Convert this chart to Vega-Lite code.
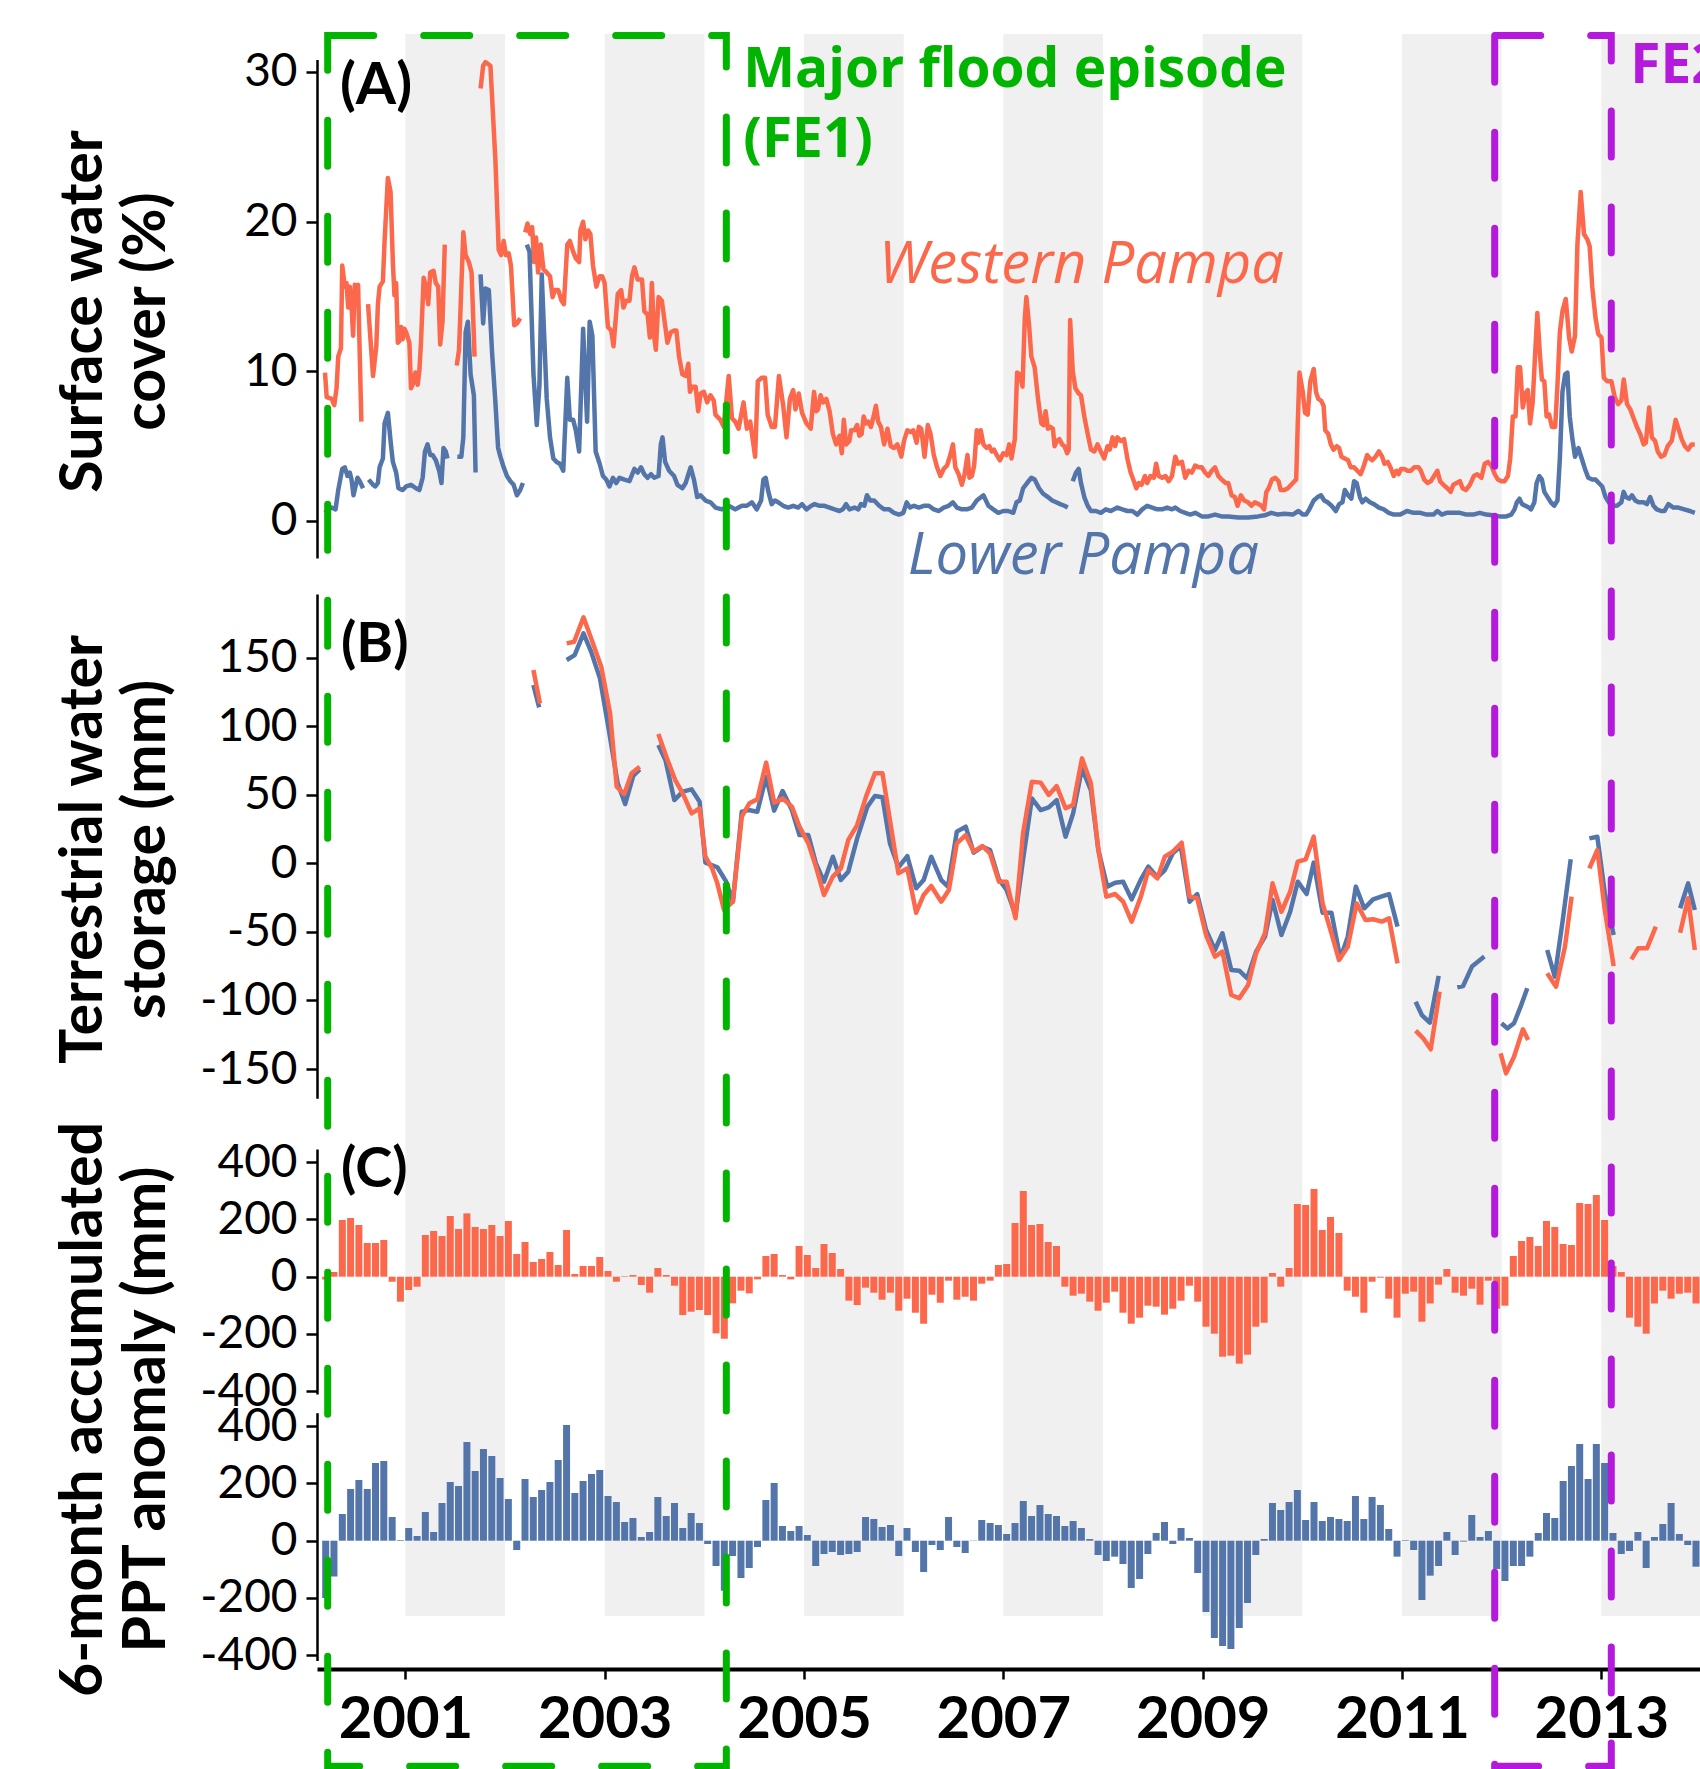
{
"$schema": "https://vega.github.io/schema/vega-lite/v6.json",
"width": 1383,
"height": 1669,
"autosize": {"type": "none"},
"padding": {"left": 317, "top": 0, "right": 0, "bottom": 100},
"background": "white",
"config": {"view": {"stroke": null}, "axis": {"grid": false}},
"datasets": {
"bands": [{"t":2001,"t2":2002},{"t":2003,"t2":2004},{"t":2005,"t2":2006},{"t":2007,"t2":2008},{"t":2009,"t2":2010},{"t":2011,"t2":2012},{"t":2013,"t2":2014}],
"west": [
{"t":2000.193,"v":9.91},{"t":2000.21,"v":8.27},{"t":2000.26,"v":8.15},{"t":2000.286,"v":7.73},{"t":2000.309,"v":8.86},{"t":2000.326,"v":10.97},{"t":2000.353,"v":11.55},{"t":2000.366,"v":17.06},{"t":2000.392,"v":15.65},{"t":2000.409,"v":15.89},{"t":2000.426,"v":14.25},{"t":2000.442,"v":15.65},{"t":2000.459,"v":14.36},{"t":2000.475,"v":12.37},{"t":2000.492,"v":15.77},{"t":2000.509,"v":15.65},{"t":2000.525,"v":15.77},{"t":2000.558,"v":6.63},{"t":2000.59,"v":null},
{"t":2000.625,"v":14.48},{"t":2000.675,"v":9.68},{"t":2000.708,"v":11.67},{"t":2000.724,"v":14.48},{"t":2000.741,"v":15.65},{"t":2000.774,"v":16.0},{"t":2000.791,"v":18.7},{"t":2000.824,"v":22.91},{"t":2000.851,"v":21.98},{"t":2000.874,"v":17.29},{"t":2000.89,"v":15.07},{"t":2000.907,"v":15.89},{"t":2000.924,"v":11.9},{"t":2000.94,"v":12.02},{"t":2000.957,"v":12.96},{"t":2000.973,"v":12.14},{"t":2000.99,"v":12.84},{"t":2001.007,"v":12.61},{"t":2001.04,"v":11.9},{"t":2001.056,"v":8.86},{"t":2001.073,"v":9.09},{"t":2001.1,"v":9.91},{"t":2001.123,"v":9.09},{"t":2001.14,"v":10.03},{"t":2001.156,"v":11.9},{"t":2001.183,"v":16.24},{"t":2001.206,"v":15.65},{"t":2001.229,"v":14.48},{"t":2001.249,"v":16.59},{"t":2001.282,"v":16.71},{"t":2001.305,"v":15.89},{"t":2001.329,"v":15.65},{"t":2001.349,"v":11.79},{"t":2001.372,"v":13.31},{"t":2001.395,"v":18.46},{"t":2001.45,"v":null},
{"t":2001.515,"v":10.38},{"t":2001.538,"v":11.43},{"t":2001.581,"v":19.28},{"t":2001.604,"v":17.76},{"t":2001.637,"v":17.29},{"t":2001.664,"v":16.59},{"t":2001.694,"v":10.97},{"t":2001.72,"v":null},
{"t":2001.754,"v":28.89},{"t":2001.78,"v":30.41},{"t":2001.803,"v":30.65},{"t":2001.853,"v":30.41},{"t":2001.903,"v":24.09},{"t":2001.936,"v":18.11},{"t":2001.96,"v":17.76},{"t":2001.986,"v":18.7},{"t":2002.009,"v":17.76},{"t":2002.036,"v":17.88},{"t":2002.059,"v":17.06},{"t":2002.092,"v":13.07},{"t":2002.119,"v":13.19},{"t":2002.152,"v":13.54},{"t":2002.175,"v":null},
{"t":2002.202,"v":19.28},{"t":2002.225,"v":19.87},{"t":2002.252,"v":19.17},{"t":2002.272,"v":19.63},{"t":2002.291,"v":17.29},{"t":2002.311,"v":18.93},{"t":2002.331,"v":16.59},{"t":2002.358,"v":18.46},{"t":2002.385,"v":16.82},{"t":2002.418,"v":16.59},{"t":2002.451,"v":16.35},{"t":2002.477,"v":14.95},{"t":2002.501,"v":15.42},{"t":2002.534,"v":15.42},{"t":2002.567,"v":14.71},{"t":2002.59,"v":14.48},{"t":2002.624,"v":18.46},{"t":2002.65,"v":18.7},{"t":2002.683,"v":17.99},{"t":2002.71,"v":17.53},{"t":2002.743,"v":17.29},{"t":2002.756,"v":19.4},{"t":2002.783,"v":19.99},{"t":2002.806,"v":18.81},{"t":2002.833,"v":19.4},{"t":2002.856,"v":19.17},{"t":2002.882,"v":17.06},{"t":2002.916,"v":15.65},{"t":2002.949,"v":16.35},{"t":2002.975,"v":16.35},{"t":2002.999,"v":15.89},{"t":2003.032,"v":12.96},{"t":2003.065,"v":12.72},{"t":2003.088,"v":11.67},{"t":2003.131,"v":15.18},{"t":2003.165,"v":15.42},{"t":2003.188,"v":14.25},{"t":2003.215,"v":14.71},{"t":2003.248,"v":14.71},{"t":2003.274,"v":16.35},{"t":2003.298,"v":16.94},{"t":2003.331,"v":16.12},{"t":2003.374,"v":16.12},{"t":2003.397,"v":14.01},{"t":2003.43,"v":13.78},{"t":2003.453,"v":12.25},{"t":2003.473,"v":15.89},{"t":2003.497,"v":12.25},{"t":2003.513,"v":11.43},{"t":2003.54,"v":14.95},{"t":2003.573,"v":14.71},{"t":2003.606,"v":13.07},{"t":2003.629,"v":11.9},{"t":2003.663,"v":12.61},{"t":2003.696,"v":12.72},{"t":2003.719,"v":12.72},{"t":2003.746,"v":10.97},{"t":2003.779,"v":9.79},{"t":2003.812,"v":9.68},{"t":2003.839,"v":10.5},{"t":2003.855,"v":8.62},{"t":2003.878,"v":8.97},{"t":2003.912,"v":8.97},{"t":2003.938,"v":7.33},{"t":2003.962,"v":8.51},{"t":2003.995,"v":8.62},{"t":2004.028,"v":7.92},{"t":2004.061,"v":8.39},{"t":2004.094,"v":8.04},{"t":2004.111,"v":7.1},{"t":2004.161,"v":6.75},{"t":2004.194,"v":6.28},{"t":2004.244,"v":9.68},{"t":2004.277,"v":6.86},{"t":2004.31,"v":6.63},{"t":2004.343,"v":6.16},{"t":2004.393,"v":7.92},{"t":2004.426,"v":6.16},{"t":2004.46,"v":6.63},{"t":2004.509,"v":4.29},{"t":2004.536,"v":9.33},{"t":2004.576,"v":9.56},{"t":2004.609,"v":9.56},{"t":2004.635,"v":7.1},{"t":2004.675,"v":6.28},
{"t":2004.708,"v":6.28},{"t":2004.748,"v":9.68},{"t":2004.791,"v":7.69},{"t":2004.824,"v":5.58},{"t":2004.858,"v":8.15},{"t":2004.891,"v":8.74},{"t":2004.914,"v":7.45},{"t":2004.947,"v":8.51},{"t":2004.98,"v":7.22},{"t":2005.024,"v":6.51},{"t":2005.067,"v":6.16},{"t":2005.1,"v":8.62},{"t":2005.123,"v":7.33},{"t":2005.14,"v":7.45},{"t":2005.166,"v":8.39},{"t":2005.19,"v":7.92},{"t":2005.223,"v":8.15},{"t":2005.256,"v":7.33},{"t":2005.289,"v":5.81},{"t":2005.322,"v":5.11},{"t":2005.356,"v":5.69},{"t":2005.379,"v":4.52},{"t":2005.399,"v":6.75},{"t":2005.422,"v":5.11},{"t":2005.455,"v":5.34},{"t":2005.472,"v":6.05},{"t":2005.505,"v":6.05},{"t":2005.532,"v":6.4},{"t":2005.555,"v":5.69},{"t":2005.578,"v":5.81},{"t":2005.598,"v":6.98},{"t":2005.621,"v":6.51},{"t":2005.644,"v":6.63},{"t":2005.671,"v":6.28},{"t":2005.698,"v":6.98},{"t":2005.721,"v":7.69},{"t":2005.744,"v":6.63},{"t":2005.771,"v":6.28},{"t":2005.804,"v":5.11},{"t":2005.837,"v":6.16},{"t":2005.87,"v":4.99},{"t":2005.903,"v":4.87},{"t":2005.937,"v":5.11},{"t":2005.976,"v":4.29},{"t":2006.003,"v":5.34},{"t":2006.036,"v":6.05},{"t":2006.069,"v":5.93},{"t":2006.096,"v":6.05},{"t":2006.129,"v":5.22},{"t":2006.152,"v":6.28},{"t":2006.176,"v":6.16},{"t":2006.209,"v":4.29},{"t":2006.242,"v":6.4},{"t":2006.269,"v":5.81},{"t":2006.302,"v":4.4},{"t":2006.335,"v":3.58},{"t":2006.368,"v":3.0},{"t":2006.401,"v":3.47},{"t":2006.435,"v":3.7},{"t":2006.468,"v":4.4},{"t":2006.494,"v":5.11},{"t":2006.518,"v":3.58},{"t":2006.551,"v":3.12},{"t":2006.584,"v":2.41},{"t":2006.611,"v":3.12},{"t":2006.64,"v":4.4},{"t":2006.66,"v":2.88},{"t":2006.684,"v":3.0},{"t":2006.707,"v":3.7},{"t":2006.733,"v":6.05},{"t":2006.75,"v":5.22},{"t":2006.773,"v":6.05},{"t":2006.8,"v":5.11},{"t":2006.833,"v":4.87},{"t":2006.86,"v":4.99},{"t":2006.883,"v":4.64},{"t":2006.906,"v":4.76},{"t":2006.933,"v":4.4},{"t":2006.966,"v":4.05},{"t":2006.999,"v":4.52},{"t":2007.032,"v":4.4},{"t":2007.059,"v":5.11},{"t":2007.082,"v":4.17},{"t":2007.115,"v":5.46},{"t":2007.138,"v":9.91},{"t":2007.165,"v":9.79},{"t":2007.192,"v":8.97},{"t":2007.215,"v":13.54},{"t":2007.231,"v":14.95},{"t":2007.258,"v":13.07},{"t":2007.281,"v":10.97},{"t":2007.314,"v":10.26},{"t":2007.348,"v":8.15},{"t":2007.381,"v":6.51},{"t":2007.404,"v":6.4},{"t":2007.424,"v":7.33},{"t":2007.447,"v":6.16},{"t":2007.47,"v":6.28},{"t":2007.497,"v":6.16},{"t":2007.514,"v":4.99},{"t":2007.537,"v":5.34},{"t":2007.563,"v":5.46},{"t":2007.59,"v":5.11},{"t":2007.613,"v":4.99},{"t":2007.64,"v":4.52},{"t":2007.656,"v":4.76},{"t":2007.67,"v":13.43},{"t":2007.696,"v":10.03},{"t":2007.723,"v":8.86},{"t":2007.756,"v":8.51},{"t":2007.779,"v":8.39},{"t":2007.812,"v":6.98},{"t":2007.846,"v":5.81},{"t":2007.879,"v":4.76},{"t":2007.912,"v":4.64},{"t":2007.945,"v":5.11},{"t":2007.978,"v":4.64},{"t":2008.012,"v":4.17},{"t":2008.045,"v":4.99},{"t":2008.068,"v":4.76},{"t":2008.095,"v":5.58},{"t":2008.121,"v":4.99},{"t":2008.144,"v":5.58},{"t":2008.178,"v":5.34},{"t":2008.211,"v":5.46},{"t":2008.244,"v":4.17},{"t":2008.277,"v":3.23},{"t":2008.31,"v":2.65},{"t":2008.334,"v":2.18},{"t":2008.36,"v":2.53},{"t":2008.387,"v":2.41},{"t":2008.42,"v":3.0},{"t":2008.443,"v":2.53},{"t":2008.476,"v":3.0},{"t":2008.51,"v":2.88},{"t":2008.533,"v":3.82},{"t":2008.559,"v":3.0},{"t":2008.593,"v":2.88},{"t":2008.626,"v":3.0},{"t":2008.659,"v":2.65},{"t":2008.692,"v":3.0},{"t":2008.725,"v":4.29},{"t":2008.752,"v":3.82},{"t":2008.792,"v":3.94},{"t":2008.825,"v":2.88},{"t":2008.858,"v":3.35},{"t":2008.891,"v":3.23},{"t":2008.925,"v":3.7},{"t":2008.958,"v":3.58},{"t":2008.991,"v":3.58},{"t":2009.024,"v":3.23},{"t":2009.057,"v":3.0},{"t":2009.091,"v":3.35},{"t":2009.124,"v":3.58},{"t":2009.157,"v":3.0},{"t":2009.19,"v":2.76},{"t":2009.23,"v":2.53},
{"t":2009.257,"v":2.53},{"t":2009.29,"v":1.71},{"t":2009.323,"v":1.59},{"t":2009.35,"v":1.01},{"t":2009.383,"v":1.71},{"t":2009.416,"v":1.36},{"t":2009.456,"v":1.24},{"t":2009.489,"v":1.01},{"t":2009.523,"v":1.24},{"t":2009.562,"v":1.12},{"t":2009.589,"v":1.01},{"t":2009.616,"v":0.77},{"t":2009.639,"v":1.94},{"t":2009.662,"v":2.18},{"t":2009.695,"v":2.76},{"t":2009.728,"v":2.88},{"t":2009.762,"v":2.65},{"t":2009.782,"v":2.06},{"t":2009.821,"v":2.06},{"t":2009.855,"v":2.18},{"t":2009.888,"v":2.41},{"t":2009.921,"v":2.65},{"t":2009.938,"v":2.76},{"t":2009.954,"v":6.51},{"t":2009.971,"v":9.91},{"t":2010.004,"v":8.62},{"t":2010.027,"v":7.22},{"t":2010.054,"v":7.1},{"t":2010.08,"v":9.33},{"t":2010.114,"v":10.15},{"t":2010.137,"v":8.62},{"t":2010.16,"v":8.15},{"t":2010.187,"v":8.04},{"t":2010.213,"v":7.69},{"t":2010.23,"v":6.05},{"t":2010.26,"v":5.81},{"t":2010.286,"v":5.11},{"t":2010.313,"v":4.76},{"t":2010.346,"v":4.99},{"t":2010.369,"v":4.87},{"t":2010.392,"v":4.29},{"t":2010.426,"v":4.17},{"t":2010.459,"v":4.05},{"t":2010.485,"v":3.58},{"t":2010.519,"v":3.58},{"t":2010.552,"v":3.35},{"t":2010.585,"v":3.12},{"t":2010.618,"v":3.7},{"t":2010.651,"v":4.4},{"t":2010.678,"v":4.17},{"t":2010.701,"v":4.05},{"t":2010.734,"v":4.29},{"t":2010.768,"v":4.64},{"t":2010.801,"v":4.29},{"t":2010.824,"v":3.82},{"t":2010.857,"v":3.94},{"t":2010.884,"v":3.58},{"t":2010.917,"v":3.0},{"t":2010.944,"v":3.35},{"t":2010.967,"v":3.12},{"t":2010.99,"v":3.47},{"t":2011.023,"v":3.47},{"t":2011.056,"v":3.35},{"t":2011.09,"v":3.35},{"t":2011.123,"v":3.58},{"t":2011.166,"v":3.58},{"t":2011.189,"v":3.35},{"t":2011.223,"v":2.76},{"t":2011.256,"v":2.53},{"t":2011.289,"v":2.65},{"t":2011.322,"v":3.0},{"t":2011.355,"v":3.35},{"t":2011.382,"v":2.65},{"t":2011.415,"v":2.41},{"t":2011.455,"v":2.18},{"t":2011.488,"v":1.94},{"t":2011.515,"v":2.41},{"t":2011.548,"v":2.53},{"t":2011.581,"v":2.65},{"t":2011.608,"v":2.18},{"t":2011.641,"v":2.06},{"t":2011.681,"v":2.41},{"t":2011.721,"v":3.0},{"t":2011.754,"v":3.12},{"t":2011.797,"v":2.88},{"t":2011.83,"v":3.82},{"t":2011.863,"v":3.94},{"t":2011.896,"v":3.7},{"t":2011.93,"v":3.12},{"t":2011.963,"v":2.76},{"t":2011.996,"v":2.65},{"t":2012.029,"v":2.65},{"t":2012.063,"v":3.0},{"t":2012.086,"v":4.17},{"t":2012.112,"v":6.98},{"t":2012.139,"v":6.98},{"t":2012.162,"v":10.26},{"t":2012.185,"v":10.26},{"t":2012.212,"v":7.57},{"t":2012.238,"v":8.51},{"t":2012.262,"v":8.74},{"t":2012.285,"v":6.51},{"t":2012.311,"v":7.92},{"t":2012.338,"v":11.43},{"t":2012.358,"v":13.89},{"t":2012.385,"v":10.97},{"t":2012.404,"v":9.44},{"t":2012.428,"v":9.33},{"t":2012.451,"v":6.98},{"t":2012.477,"v":7.1},{"t":2012.504,"v":6.28},{"t":2012.537,"v":6.28},{"t":2012.56,"v":9.09},{"t":2012.584,"v":12.61},{"t":2012.61,"v":14.01},{"t":2012.643,"v":14.83},{"t":2012.677,"v":12.25},{"t":2012.703,"v":11.32},{"t":2012.736,"v":12.37},{"t":2012.76,"v":18.46},{"t":2012.793,"v":21.98},{"t":2012.826,"v":19.17},{"t":2012.859,"v":18.81},{"t":2012.883,"v":18.35},{"t":2012.909,"v":15.65},{"t":2012.942,"v":13.54},{"t":2012.969,"v":12.49},{"t":2013.002,"v":12.25},{"t":2013.025,"v":9.56},{"t":2013.058,"v":9.33},{"t":2013.101,"v":9.33},{"t":2013.135,"v":8.27},{"t":2013.168,"v":7.8},{"t":2013.201,"v":8.04},{"t":2013.225,"v":9.44},{"t":2013.258,"v":7.8},{"t":2013.291,"v":7.45},{"t":2013.324,"v":6.86},{"t":2013.357,"v":6.28},{"t":2013.39,"v":5.81},{"t":2013.424,"v":5.11},{"t":2013.447,"v":5.22},{"t":2013.48,"v":7.57},{"t":2013.507,"v":5.58},{"t":2013.54,"v":5.34},{"t":2013.566,"v":4.64},{"t":2013.6,"v":4.29},{"t":2013.633,"v":4.4},{"t":2013.666,"v":4.99},{"t":2013.706,"v":5.34},{"t":2013.746,"v":6.75},{"t":2013.779,"v":6.05},{"t":2013.806,"v":5.46},{"t":2013.839,"v":4.99},{"t":2013.872,"v":4.76},{"t":2013.905,"v":5.11},{"t":2013.938,"v":5.11}
],
"lower": [
{"t":2000.193,"v":0.54},{"t":2000.226,"v":0.77},{"t":2000.26,"v":0.89},{"t":2000.299,"v":0.77},{"t":2000.326,"v":2.06},{"t":2000.366,"v":3.47},{"t":2000.392,"v":3.58},{"t":2000.419,"v":3.0},{"t":2000.442,"v":3.23},{"t":2000.459,"v":2.76},{"t":2000.479,"v":1.71},{"t":2000.499,"v":2.3},{"t":2000.519,"v":2.88},{"t":2000.542,"v":2.65},{"t":2000.575,"v":2.18},{"t":2000.6,"v":null},
{"t":2000.631,"v":2.76},{"t":2000.675,"v":2.41},{"t":2000.698,"v":2.3},{"t":2000.724,"v":2.53},{"t":2000.741,"v":3.58},{"t":2000.774,"v":4.17},{"t":2000.791,"v":6.51},{"t":2000.824,"v":7.22},{"t":2000.851,"v":5.34},{"t":2000.874,"v":3.94},{"t":2000.907,"v":3.23},{"t":2000.93,"v":2.18},{"t":2000.973,"v":2.06},{"t":2001.007,"v":2.3},{"t":2001.056,"v":2.41},{"t":2001.106,"v":2.18},{"t":2001.14,"v":2.06},{"t":2001.173,"v":2.88},{"t":2001.196,"v":4.64},{"t":2001.222,"v":5.11},{"t":2001.249,"v":4.4},{"t":2001.272,"v":4.4},{"t":2001.305,"v":4.05},{"t":2001.339,"v":3.35},{"t":2001.362,"v":2.53},{"t":2001.382,"v":4.87},{"t":2001.405,"v":4.64},{"t":2001.422,"v":4.17},{"t":2001.46,"v":null},
{"t":2001.521,"v":4.29},{"t":2001.561,"v":4.29},{"t":2001.581,"v":5.58},{"t":2001.604,"v":12.61},{"t":2001.627,"v":13.31},{"t":2001.654,"v":9.79},{"t":2001.687,"v":8.39},{"t":2001.704,"v":3.23},{"t":2001.725,"v":null},
{"t":2001.754,"v":16.47},{"t":2001.78,"v":13.19},{"t":2001.803,"v":15.53},{"t":2001.837,"v":15.42},{"t":2001.87,"v":11.2},{"t":2001.903,"v":7.92},{"t":2001.93,"v":4.87},{"t":2001.953,"v":4.29},{"t":2001.986,"v":3.58},{"t":2002.019,"v":3.0},{"t":2002.053,"v":2.65},{"t":2002.086,"v":2.41},{"t":2002.119,"v":1.71},{"t":2002.152,"v":2.06},{"t":2002.179,"v":2.53},{"t":2002.195,"v":null},
{"t":2002.218,"v":18.46},{"t":2002.245,"v":17.99},{"t":2002.285,"v":9.79},{"t":2002.318,"v":6.4},{"t":2002.345,"v":9.09},{"t":2002.368,"v":16.47},{"t":2002.391,"v":12.61},{"t":2002.418,"v":8.15},{"t":2002.451,"v":5.58},{"t":2002.484,"v":4.17},{"t":2002.517,"v":3.94},{"t":2002.55,"v":3.82},{"t":2002.584,"v":3.35},{"t":2002.624,"v":9.56},{"t":2002.65,"v":6.75},{"t":2002.683,"v":6.75},{"t":2002.71,"v":6.05},{"t":2002.743,"v":4.64},{"t":2002.783,"v":12.84},{"t":2002.823,"v":6.63},{"t":2002.849,"v":13.31},{"t":2002.876,"v":12.37},{"t":2002.909,"v":4.64},{"t":2002.949,"v":3.82},{"t":2002.982,"v":3.0},{"t":2003.015,"v":2.76},{"t":2003.048,"v":2.3},{"t":2003.082,"v":2.88},{"t":2003.115,"v":2.53},{"t":2003.148,"v":2.88},{"t":2003.198,"v":2.76},{"t":2003.248,"v":2.65},{"t":2003.298,"v":3.47},{"t":2003.331,"v":3.23},{"t":2003.364,"v":3.58},{"t":2003.397,"v":3.12},{"t":2003.43,"v":2.88},{"t":2003.464,"v":3.12},{"t":2003.497,"v":2.88},{"t":2003.54,"v":3.0},{"t":2003.563,"v":5.11},{"t":2003.58,"v":5.58},{"t":2003.606,"v":3.94},{"t":2003.646,"v":3.35},{"t":2003.696,"v":3.0},{"t":2003.729,"v":2.41},{"t":2003.779,"v":2.18},{"t":2003.812,"v":2.53},{"t":2003.862,"v":3.58},{"t":2003.895,"v":2.76},{"t":2003.928,"v":1.59},{"t":2003.962,"v":1.71},{"t":2004.011,"v":1.36},{"t":2004.061,"v":1.24},{"t":2004.111,"v":0.89},{"t":2004.177,"v":0.77},{"t":2004.244,"v":1.01},{"t":2004.31,"v":0.77},{"t":2004.343,"v":0.89},{"t":2004.377,"v":1.01},{"t":2004.426,"v":1.01},{"t":2004.476,"v":1.24},{"t":2004.526,"v":0.77},{"t":2004.569,"v":1.36},{"t":2004.592,"v":2.76},{"t":2004.615,"v":2.88},{"t":2004.642,"v":1.94},{"t":2004.675,"v":1.12},
{"t":2004.708,"v":1.36},{"t":2004.741,"v":1.24},{"t":2004.791,"v":1.01},{"t":2004.841,"v":0.89},{"t":2004.891,"v":1.01},{"t":2004.941,"v":0.89},{"t":2004.98,"v":1.12},{"t":2005.024,"v":0.77},{"t":2005.073,"v":1.01},{"t":2005.107,"v":1.12},{"t":2005.156,"v":1.01},{"t":2005.206,"v":1.01},{"t":2005.256,"v":0.89},{"t":2005.306,"v":0.77},{"t":2005.356,"v":0.66},{"t":2005.389,"v":0.77},{"t":2005.422,"v":1.12},{"t":2005.455,"v":0.77},{"t":2005.505,"v":0.89},{"t":2005.545,"v":0.77},{"t":2005.571,"v":1.12},{"t":2005.605,"v":1.01},{"t":2005.631,"v":1.71},{"t":2005.664,"v":1.36},{"t":2005.704,"v":1.36},{"t":2005.754,"v":1.01},{"t":2005.804,"v":0.77},{"t":2005.854,"v":0.77},{"t":2005.903,"v":0.54},{"t":2005.953,"v":0.42},{"t":2005.996,"v":0.54},{"t":2006.03,"v":1.24},{"t":2006.063,"v":0.89},{"t":2006.103,"v":1.01},{"t":2006.152,"v":0.89},{"t":2006.202,"v":1.01},{"t":2006.252,"v":1.01},{"t":2006.302,"v":0.77},{"t":2006.352,"v":0.66},{"t":2006.401,"v":0.89},{"t":2006.451,"v":1.01},{"t":2006.494,"v":1.24},{"t":2006.534,"v":0.89},{"t":2006.584,"v":0.77},{"t":2006.634,"v":0.77},{"t":2006.684,"v":0.89},{"t":2006.733,"v":1.36},{"t":2006.8,"v":1.71},{"t":2006.85,"v":1.01},{"t":2006.899,"v":0.77},{"t":2006.949,"v":0.54},{"t":2006.999,"v":0.66},{"t":2007.049,"v":0.66},{"t":2007.099,"v":0.54},{"t":2007.132,"v":1.24},{"t":2007.165,"v":1.36},{"t":2007.198,"v":2.18},{"t":2007.238,"v":2.53},{"t":2007.281,"v":2.88},{"t":2007.314,"v":2.76},{"t":2007.358,"v":2.18},{"t":2007.397,"v":1.83},{"t":2007.447,"v":1.59},{"t":2007.49,"v":1.36},{"t":2007.53,"v":1.24},{"t":2007.57,"v":1.12},{"t":2007.613,"v":1.01},{"t":2007.646,"v":0.89},{"t":2007.67,"v":null},
{"t":2007.696,"v":2.65},{"t":2007.729,"v":3.23},{"t":2007.756,"v":3.47},{"t":2007.779,"v":2.53},{"t":2007.812,"v":1.59},{"t":2007.846,"v":1.01},{"t":2007.879,"v":0.66},{"t":2007.929,"v":0.66},{"t":2007.978,"v":0.54},{"t":2008.028,"v":0.77},{"t":2008.078,"v":0.66},{"t":2008.144,"v":0.89},{"t":2008.194,"v":0.77},{"t":2008.244,"v":0.66},{"t":2008.294,"v":0.66},{"t":2008.344,"v":0.42},{"t":2008.393,"v":0.77},{"t":2008.443,"v":1.01},{"t":2008.493,"v":0.89},{"t":2008.543,"v":0.77},{"t":2008.593,"v":0.77},{"t":2008.643,"v":0.89},{"t":2008.692,"v":0.77},{"t":2008.725,"v":0.89},{"t":2008.775,"v":0.66},{"t":2008.825,"v":0.54},{"t":2008.875,"v":0.42},{"t":2008.925,"v":0.54},{"t":2008.991,"v":0.3},{"t":2009.057,"v":0.3},{"t":2009.124,"v":0.42},{"t":2009.19,"v":0.3},
{"t":2009.257,"v":0.3},{"t":2009.357,"v":0.23},{"t":2009.456,"v":0.23},{"t":2009.556,"v":0.3},{"t":2009.622,"v":0.37},{"t":2009.689,"v":0.54},{"t":2009.755,"v":0.42},{"t":2009.821,"v":0.47},{"t":2009.904,"v":0.42},{"t":2009.961,"v":0.66},{"t":2010.004,"v":0.42},{"t":2010.037,"v":0.42},{"t":2010.07,"v":0.77},{"t":2010.114,"v":1.36},{"t":2010.153,"v":1.59},{"t":2010.187,"v":1.71},{"t":2010.22,"v":1.36},{"t":2010.253,"v":1.24},{"t":2010.293,"v":1.01},{"t":2010.336,"v":0.66},{"t":2010.369,"v":1.12},{"t":2010.402,"v":1.24},{"t":2010.426,"v":2.06},{"t":2010.459,"v":1.71},{"t":2010.492,"v":1.48},{"t":2010.519,"v":2.65},{"t":2010.545,"v":2.53},{"t":2010.578,"v":1.59},{"t":2010.602,"v":1.24},{"t":2010.635,"v":1.48},{"t":2010.678,"v":1.24},{"t":2010.718,"v":1.12},{"t":2010.768,"v":0.89},{"t":2010.817,"v":0.77},{"t":2010.867,"v":0.54},{"t":2010.917,"v":0.42},{"t":2010.983,"v":0.42},{"t":2011.05,"v":0.66},{"t":2011.116,"v":0.54},{"t":2011.183,"v":0.54},{"t":2011.249,"v":0.42},{"t":2011.315,"v":0.42},{"t":2011.355,"v":0.66},{"t":2011.398,"v":0.42},{"t":2011.448,"v":0.54},{"t":2011.515,"v":0.54},{"t":2011.581,"v":0.54},{"t":2011.647,"v":0.42},{"t":2011.714,"v":0.42},{"t":2011.78,"v":0.54},{"t":2011.847,"v":0.42},{"t":2011.913,"v":0.37},{"t":2011.979,"v":0.3},{"t":2012.046,"v":0.3},{"t":2012.096,"v":0.42},{"t":2012.129,"v":0.77},{"t":2012.152,"v":1.24},{"t":2012.179,"v":1.48},{"t":2012.205,"v":1.12},{"t":2012.238,"v":1.01},{"t":2012.272,"v":0.89},{"t":2012.295,"v":0.77},{"t":2012.328,"v":1.24},{"t":2012.351,"v":2.53},{"t":2012.378,"v":3.0},{"t":2012.404,"v":2.76},{"t":2012.428,"v":1.94},{"t":2012.461,"v":1.59},{"t":2012.494,"v":1.24},{"t":2012.527,"v":1.01},{"t":2012.56,"v":1.36},{"t":2012.584,"v":4.17},{"t":2012.61,"v":8.62},{"t":2012.637,"v":9.79},{"t":2012.66,"v":9.91},{"t":2012.683,"v":6.98},{"t":2012.71,"v":5.46},{"t":2012.736,"v":4.29},{"t":2012.77,"v":4.87},{"t":2012.803,"v":4.17},{"t":2012.836,"v":3.47},{"t":2012.869,"v":2.88},{"t":2012.909,"v":2.76},{"t":2012.942,"v":2.76},{"t":2012.975,"v":2.53},{"t":2013.009,"v":2.3},{"t":2013.042,"v":1.59},{"t":2013.075,"v":1.24},{"t":2013.108,"v":1.01},{"t":2013.158,"v":1.01},{"t":2013.201,"v":1.24},{"t":2013.224,"v":1.94},{"t":2013.248,"v":1.59},{"t":2013.281,"v":1.48},{"t":2013.307,"v":1.71},{"t":2013.341,"v":1.36},{"t":2013.374,"v":1.24},{"t":2013.424,"v":1.24},{"t":2013.457,"v":1.12},{"t":2013.49,"v":1.59},{"t":2013.523,"v":1.01},{"t":2013.556,"v":0.77},{"t":2013.6,"v":0.66},{"t":2013.633,"v":0.66},{"t":2013.673,"v":1.12},{"t":2013.723,"v":0.89},{"t":2013.772,"v":0.89},{"t":2013.832,"v":0.77},{"t":2013.889,"v":0.66},{"t":2013.938,"v":0.54}
],
"tws_w": [
{"t":2002.284,"v":140.9},{"t":2002.35,"v":116.6},{"t":2002.45,"v":null},{"t":2002.618,"v":160.3},{"t":2002.693,"v":161.5},{"t":2002.787,"v":179.3},{"t":2002.876,"v":161.5},{"t":2002.965,"v":143.3},{"t":2003.054,"v":109.3},{"t":2003.12,"v":55.9},{"t":2003.196,"v":50.5},{"t":2003.27,"v":65.6},{"t":2003.351,"v":70.4},{"t":2003.45,"v":null},{"t":2003.538,"v":94.2},{"t":2003.618,"v":77.7},{"t":2003.707,"v":60.7},{"t":2003.783,"v":51.0},{"t":2003.872,"v":36.4},{"t":2003.952,"v":40.1},{"t":2004.01,"v":4.8},{"t":2004.077,"v":-3.7},{"t":2004.13,"v":-14.6},{"t":2004.197,"v":-34.0},{"t":2004.286,"v":-28.0},{"t":2004.375,"v":34.0},{"t":2004.451,"v":43.7},{"t":2004.531,"v":46.6},{"t":2004.62,"v":73.4},{"t":2004.7,"v":44.2},{"t":2004.785,"v":47.3},{"t":2004.878,"v":41.3},{"t":2004.954,"v":26.7},{"t":2005.043,"v":14.5},{"t":2005.119,"v":-2.4},{"t":2005.2,"v":-23.1},{"t":2005.289,"v":-9.7},{"t":2005.369,"v":-3.7},{"t":2005.444,"v":17.0},{"t":2005.533,"v":27.9},{"t":2005.622,"v":48.6},{"t":2005.711,"v":65.6},{"t":2005.787,"v":65.6},{"t":2005.867,"v":29.1},{"t":2005.947,"v":-7.3},{"t":2006.036,"v":-3.7},{"t":2006.125,"v":-36.0},{"t":2006.2,"v":-23.1},{"t":2006.276,"v":-16.5},{"t":2006.377,"v":-28.0},{"t":2006.453,"v":-19.5},{"t":2006.533,"v":14.5},{"t":2006.622,"v":20.6},{"t":2006.702,"v":8.5},{"t":2006.791,"v":12.6},{"t":2006.866,"v":7.3},{"t":2006.955,"v":-13.4},{"t":2007.033,"v":-13.4},{"t":2007.122,"v":-40.1},{"t":2007.197,"v":21.8},{"t":2007.286,"v":59.5},{"t":2007.375,"v":58.8},{"t":2007.455,"v":49.8},{"t":2007.535,"v":56.3},{"t":2007.624,"v":40.1},{"t":2007.7,"v":42.5},{"t":2007.789,"v":76.5},{"t":2007.878,"v":58.3},{"t":2007.953,"v":9.7},{"t":2008.033,"v":-24.3},{"t":2008.122,"v":-22.4},{"t":2008.202,"v":-28.0},{"t":2008.287,"v":-42.5},{"t":2008.38,"v":-24.3},{"t":2008.455,"v":-4.9},{"t":2008.545,"v":-11.0},{"t":2008.62,"v":4.8},{"t":2008.7,"v":8.5},{"t":2008.789,"v":15.0},{"t":2008.869,"v":-24.3},{"t":2008.945,"v":-25.5},{"t":2009.034,"v":-52.3},{"t":2009.123,"v":-68.0},{"t":2009.198,"v":-64.4},{"t":2009.287,"v":-96.0},{"t":2009.367,"v":-98.4},{"t":2009.456,"v":-88.7},{"t":2009.536,"v":-65.6},{"t":2009.625,"v":-51.0},{"t":2009.701,"v":-14.6},{"t":2009.79,"v":-35.3},{"t":2009.878,"v":-20.7},{"t":2009.954,"v":1.2},{"t":2010.034,"v":2.9},{"t":2010.114,"v":19.4},{"t":2010.203,"v":-29.2},{"t":2010.292,"v":-51.0},{"t":2010.368,"v":-70.5},{"t":2010.456,"v":-60.8},{"t":2010.545,"v":-29.2},{"t":2010.634,"v":-41.3},{"t":2010.71,"v":-40.8},{"t":2010.799,"v":-42.5},{"t":2010.87,"v":-40.1},{"t":2010.955,"v":-72.9},{"t":2011.05,"v":null},{"t":2011.137,"v":-122.0},{"t":2011.213,"v":-127.6},{"t":2011.288,"v":-135.6},{"t":2011.377,"v":-93.6},{"t":2011.6,"v":null},{"t":2011.99,"v":-138.5},{"t":2012.044,"v":-153.1},{"t":2012.124,"v":-141.0},{"t":2012.213,"v":-121.0},{"t":2012.266,"v":-128.8},{"t":2012.36,"v":null},{"t":2012.457,"v":-80.2},{"t":2012.546,"v":-89.9},{"t":2012.635,"v":-60.8},{"t":2012.702,"v":-24.3},{"t":2012.79,"v":null},{"t":2012.88,"v":-3.7},{"t":2012.96,"v":9.7},{"t":2013.035,"v":-34.0},{"t":2013.124,"v":-74.9},{"t":2013.21,"v":null},{"t":2013.302,"v":-70.0},{"t":2013.369,"v":-62.0},{"t":2013.458,"v":-62.0},{"t":2013.547,"v":-46.2},{"t":2013.67,"v":null},{"t":2013.791,"v":-50.6},{"t":2013.871,"v":-25.5},{"t":2013.938,"v":-63.2}
],
"tws_l": [
{"t":2002.284,"v":130.0},{"t":2002.342,"v":113.7},{"t":2002.45,"v":null},{"t":2002.618,"v":148.2},{"t":2002.698,"v":151.8},{"t":2002.787,"v":167.6},{"t":2002.863,"v":154.3},{"t":2002.952,"v":134.8},{"t":2003.041,"v":97.2},{"t":2003.13,"v":58.3},{"t":2003.205,"v":43.2},{"t":2003.285,"v":63.6},{"t":2003.351,"v":68.5},{"t":2003.45,"v":null},{"t":2003.538,"v":86.2},{"t":2003.609,"v":75.3},{"t":2003.698,"v":46.1},{"t":2003.783,"v":52.2},{"t":2003.872,"v":53.9},{"t":2003.952,"v":44.9},{"t":2004.01,"v":0.5},{"t":2004.13,"v":-2.9},{"t":2004.219,"v":-13.4},{"t":2004.286,"v":-28.0},{"t":2004.375,"v":37.6},{"t":2004.442,"v":38.8},{"t":2004.531,"v":37.6},{"t":2004.62,"v":63.1},{"t":2004.7,"v":38.4},{"t":2004.785,"v":52.7},{"t":2004.878,"v":38.8},{"t":2004.954,"v":20.6},{"t":2005.043,"v":20.6},{"t":2005.119,"v":0},{"t":2005.2,"v":-13.4},{"t":2005.289,"v":4.8},{"t":2005.369,"v":-12.2},{"t":2005.444,"v":-6.1},{"t":2005.533,"v":18.2},{"t":2005.636,"v":41.3},{"t":2005.711,"v":49.1},{"t":2005.787,"v":48.1},{"t":2005.862,"v":14.5},{"t":2005.947,"v":-2.9},{"t":2006.036,"v":5.3},{"t":2006.125,"v":-18.2},{"t":2006.2,"v":-12.2},{"t":2006.276,"v":4.8},{"t":2006.377,"v":-12.2},{"t":2006.444,"v":-17.0},{"t":2006.533,"v":23.1},{"t":2006.622,"v":26.7},{"t":2006.702,"v":7.8},{"t":2006.791,"v":12.1},{"t":2006.866,"v":9.7},{"t":2006.955,"v":-11.7},{"t":2007.033,"v":-19.5},{"t":2007.122,"v":-37.7},{"t":2007.197,"v":2.4},{"t":2007.286,"v":47.3},{"t":2007.375,"v":38.8},{"t":2007.455,"v":40.8},{"t":2007.535,"v":46.1},{"t":2007.624,"v":19.4},{"t":2007.7,"v":36.4},{"t":2007.789,"v":69.2},{"t":2007.878,"v":53.4},{"t":2007.953,"v":9.7},{"t":2008.042,"v":-17.0},{"t":2008.122,"v":-14.1},{"t":2008.202,"v":-13.4},{"t":2008.287,"v":-26.3},{"t":2008.38,"v":-11.7},{"t":2008.455,"v":-2.4},{"t":2008.545,"v":-10.2},{"t":2008.62,"v":-4.9},{"t":2008.7,"v":7.3},{"t":2008.78,"v":12.6},{"t":2008.869,"v":-28.0},{"t":2008.945,"v":-22.4},{"t":2009.034,"v":-48.6},{"t":2009.123,"v":-63.2},{"t":2009.198,"v":-51.0},{"t":2009.287,"v":-77.8},{"t":2009.367,"v":-78.3},{"t":2009.447,"v":-83.8},{"t":2009.536,"v":-64.4},{"t":2009.625,"v":-53.5},{"t":2009.701,"v":-26.8},{"t":2009.79,"v":-52.3},{"t":2009.878,"v":-35.3},{"t":2009.954,"v":-13.4},{"t":2010.043,"v":-22.4},{"t":2010.114,"v":0.5},{"t":2010.203,"v":-36.0},{"t":2010.292,"v":-36.0},{"t":2010.381,"v":-69.3},{"t":2010.456,"v":-53.5},{"t":2010.537,"v":-17.0},{"t":2010.621,"v":-32.8},{"t":2010.71,"v":-26.3},{"t":2010.79,"v":-24.3},{"t":2010.87,"v":-22.4},{"t":2010.955,"v":-46.2},{"t":2011.05,"v":null},{"t":2011.137,"v":-100.9},{"t":2011.199,"v":-110.6},{"t":2011.279,"v":-116.2},{"t":2011.368,"v":-82.1},{"t":2011.46,"v":null},{"t":2011.555,"v":-90.4},{"t":2011.613,"v":-89.4},{"t":2011.702,"v":-75.3},{"t":2011.826,"v":-68.0},{"t":2011.91,"v":null},{"t":2011.999,"v":-116.6},{"t":2012.057,"v":-120.3},{"t":2012.124,"v":-116.6},{"t":2012.19,"v":-104.5},{"t":2012.257,"v":-91.1},{"t":2012.36,"v":null},{"t":2012.457,"v":-63.2},{"t":2012.533,"v":-82.6},{"t":2012.613,"v":-41.3},{"t":2012.693,"v":2.9},{"t":2012.79,"v":null},{"t":2012.88,"v":18.2},{"t":2012.96,"v":19.4},{"t":2013.035,"v":-21.9},{"t":2013.124,"v":-52.3},{"t":2013.4,"v":null},{"t":2013.791,"v":-32.8},{"t":2013.871,"v":-14.6},{"t":2013.938,"v":-34.0}
],
"ppt": [
{"t":2000.2,"w":-10,"l":-200},{"t":2000.283,"w":16.4,"l":-125},{"t":2000.367,"w":198,"l":93.2},{"t":2000.45,"w":205,"l":180.4},{"t":2000.533,"w":180.6,"l":211.9},{"t":2000.617,"w":117.7,"l":180.4},{"t":2000.7,"w":117.7,"l":271.2},{"t":2000.783,"w":128.2,"l":278.2},{"t":2000.867,"w":-17.5,"l":82.7},{"t":2000.95,"w":-87.2,"l":2.3},
{"t":2001.033,"w":-46.5,"l":44.3},{"t":2001.117,"w":-34.9,"l":16.4},{"t":2001.2,"w":145.6,"l":100.2},{"t":2001.283,"w":159.6,"l":30.3},{"t":2001.367,"w":142.1,"l":131.6},{"t":2001.45,"w":212,"l":204.9},{"t":2001.533,"w":166.6,"l":190.9},{"t":2001.617,"w":221.3,"l":344.5},{"t":2001.7,"w":173.6,"l":243.3},{"t":2001.783,"w":166.6,"l":320.1},{"t":2001.867,"w":180.6,"l":295.6},{"t":2001.95,"w":142.1,"l":218.9},
{"t":2002.033,"w":194.5,"l":145.6},{"t":2002.117,"w":79.3,"l":-32.6},{"t":2002.2,"w":121.2,"l":215.4},{"t":2002.283,"w":51.3,"l":152.5},{"t":2002.367,"w":61.8,"l":177},{"t":2002.45,"w":86.2,"l":204.9},{"t":2002.533,"w":40.8,"l":281.7},{"t":2002.617,"w":163.1,"l":403.9},{"t":2002.7,"w":9.4,"l":166.5},{"t":2002.783,"w":37.3,"l":208.4},{"t":2002.867,"w":37.3,"l":232.8},{"t":2002.95,"w":68.7,"l":246.8},
{"t":2003.033,"w":19.8,"l":156},{"t":2003.117,"w":-17.5,"l":135},{"t":2003.2,"w":2,"l":65.3},{"t":2003.283,"w":5.8,"l":79.2},{"t":2003.367,"w":-29.1,"l":12.9},{"t":2003.45,"w":-55.9,"l":30.3},{"t":2003.533,"w":30.3,"l":152.5},{"t":2003.617,"w":5.8,"l":86.2},{"t":2003.7,"w":-31.4,"l":131.6},{"t":2003.783,"w":-133.9,"l":44.3},{"t":2003.867,"w":-122.3,"l":96.7},{"t":2003.95,"w":-116.4,"l":61.7},
{"t":2004.033,"w":-133.9,"l":-11.6},{"t":2004.117,"w":-198,"l":-88.4},{"t":2004.2,"w":-216.6,"l":-174.5},{"t":2004.283,"w":-93.1,"l":-53.5},{"t":2004.367,"w":-48.9,"l":-130.3},{"t":2004.45,"w":-58.2,"l":-95.4},{"t":2004.533,"w":-9.3,"l":-22.1},{"t":2004.617,"w":72.2,"l":142.1},{"t":2004.7,"w":79.3,"l":201.4},{"t":2004.783,"w":5.8,"l":51.3},{"t":2004.867,"w":-9.3,"l":33.8},{"t":2004.95,"w":107.2,"l":51.3},
{"t":2005.033,"w":75.7,"l":19.9},{"t":2005.117,"w":30.3,"l":-88.4},{"t":2005.2,"w":114.2,"l":-46.5},{"t":2005.283,"w":82.8,"l":-39.5},{"t":2005.367,"w":26.8,"l":-50},{"t":2005.45,"w":-83.7,"l":-46.5},{"t":2005.533,"w":-98.9,"l":-39.5},{"t":2005.617,"w":-38.4,"l":82.7},{"t":2005.7,"w":-55.9,"l":75.7},{"t":2005.783,"w":-80.3,"l":47.8},{"t":2005.867,"w":-55.9,"l":54.8},{"t":2005.95,"w":-118.8,"l":-53.5},
{"t":2006.033,"w":-76.8,"l":44.3},{"t":2006.117,"w":-125.8,"l":-39.5},{"t":2006.2,"w":-164.2,"l":-109.4},{"t":2006.283,"w":-62.9,"l":-15.1},{"t":2006.367,"w":-90.9,"l":-32.6},{"t":2006.45,"w":-14,"l":82.7},{"t":2006.533,"w":-80.3,"l":-22.1},{"t":2006.617,"w":-69.9,"l":-43},{"t":2006.7,"w":-83.7,"l":-1},{"t":2006.783,"w":-24.4,"l":72.2},{"t":2006.867,"w":-14,"l":61.7},{"t":2006.95,"w":40.8,"l":54.8},
{"t":2007.033,"w":44.3,"l":23.4},{"t":2007.117,"w":187.5,"l":61.7},{"t":2007.2,"w":299.3,"l":138.6},{"t":2007.283,"w":180.6,"l":86.2},{"t":2007.367,"w":184,"l":124.6},{"t":2007.45,"w":121.2,"l":93.2},{"t":2007.533,"w":107.2,"l":86.2},{"t":2007.617,"w":-34.9,"l":51.3},{"t":2007.7,"w":-66.3,"l":68.8},{"t":2007.783,"w":-59.4,"l":44.3},{"t":2007.867,"w":-87.2,"l":5.9},{"t":2007.95,"w":-118.8,"l":-49.9},
{"t":2008.033,"w":-90.9,"l":-70.8},{"t":2008.117,"w":-52.4,"l":-55.7},{"t":2008.2,"w":-125.8,"l":-81.3},{"t":2008.283,"w":-164.2,"l":-165.1},{"t":2008.367,"w":-143.1,"l":-133.7},{"t":2008.45,"w":-101.3,"l":-46.4},{"t":2008.533,"w":-104.8,"l":26.9},{"t":2008.617,"w":-132.7,"l":65.3},{"t":2008.7,"w":-111.8,"l":-11.5},{"t":2008.783,"w":-83.8,"l":44.3},{"t":2008.867,"w":-31.4,"l":9.4},{"t":2008.95,"w":-87.2,"l":-112.8},
{"t":2009.033,"w":-174.6,"l":-248.9},{"t":2009.117,"w":-199.1,"l":-339.6},{"t":2009.2,"w":-279.4,"l":-367.5},{"t":2009.283,"w":-275.9,"l":-378},{"t":2009.367,"w":-303.9,"l":-304.7},{"t":2009.45,"w":-272.4,"l":-217.5},{"t":2009.533,"w":-174.6,"l":-49.9},{"t":2009.617,"w":-160.7,"l":5.9},{"t":2009.7,"w":12.9,"l":131.6},{"t":2009.783,"w":-34.9,"l":107.2},{"t":2009.867,"w":30.3,"l":135.1},{"t":2009.95,"w":253.9,"l":177},
{"t":2010.033,"w":250.4,"l":72.2},{"t":2010.117,"w":306.3,"l":135.1},{"t":2010.2,"w":163.1,"l":68.8},{"t":2010.283,"w":208.5,"l":82.7},{"t":2010.367,"w":152.6,"l":75.7},{"t":2010.45,"w":-48.9,"l":68.8},{"t":2010.533,"w":-69.9,"l":156},{"t":2010.617,"w":-125.8,"l":75.7},{"t":2010.7,"w":-17.5,"l":152.5},{"t":2010.783,"w":-3.5,"l":124.6},{"t":2010.867,"w":-76.8,"l":40.8},{"t":2010.95,"w":-143.1,"l":-55.7},
{"t":2011.033,"w":-59.4,"l":2},{"t":2011.117,"w":-52.4,"l":-32.5},{"t":2011.2,"w":-157.2,"l":-207},{"t":2011.283,"w":-93.6,"l":-122.1},{"t":2011.367,"w":-27.9,"l":-88.4},{"t":2011.45,"w":26.8,"l":30.3},{"t":2011.533,"w":-55.9,"l":-49.9},{"t":2011.617,"w":-66.3,"l":-3},{"t":2011.7,"w":-41.9,"l":89.7},{"t":2011.783,"w":-97.7,"l":12.9},{"t":2011.867,"w":-14,"l":33.8},{"t":2011.95,"w":-111.8,"l":-98.7},
{"t":2012.033,"w":-101.3,"l":-140.6},{"t":2012.117,"w":72.2,"l":-88.4},{"t":2012.2,"w":124.7,"l":-88.4},{"t":2012.283,"w":138.6,"l":-55.7},{"t":2012.367,"w":107.2,"l":26.9},{"t":2012.45,"w":194.5,"l":96.7},{"t":2012.533,"w":173.6,"l":79.2},{"t":2012.617,"w":114.2,"l":208.4},{"t":2012.7,"w":110.7,"l":260.7},{"t":2012.783,"w":257.4,"l":337.5},{"t":2012.867,"w":253.9,"l":215.4},{"t":2012.95,"w":285.3,"l":337.5},
{"t":2013.033,"w":198,"l":271.2},{"t":2013.117,"w":37.3,"l":26.9},{"t":2013.2,"w":16.3,"l":-46.4},{"t":2013.283,"w":-143.1,"l":-36},{"t":2013.367,"w":-174.6,"l":30.3},{"t":2013.45,"w":-199.1,"l":-95.3},{"t":2013.533,"w":-93.6,"l":12.9},{"t":2013.617,"w":-48.9,"l":58.3},{"t":2013.7,"w":-76.8,"l":131.6},{"t":2013.783,"w":-59.4,"l":23.4},{"t":2013.867,"w":-55.9,"l":-15.1},{"t":2013.95,"w":-93.6,"l":-90.7}
]
},
"encoding": {
"x": {"field": "t", "type": "quantitative",
"scale": {"domain": [2000.163, 2013.94], "nice": false, "zero": false},
"axis": {"values": [2001, 2003, 2005, 2007, 2009, 2011, 2013], "format": "d", "title": null, "grid": false,
"labelFont": "Lato", "labelFontSize": 58, "labelFontWeight": "bold", "labelColor": "black", "labelPadding": 12,
"labelFlush": false, "labelOverlap": false, "tickSize": 10, "tickWidth": 2.5, "tickColor": "black",
"domainColor": "black", "domainWidth": 4}}
},
"layer": [
{
"data": {"name": "bands"},
"mark": {"type": "rect", "color": "#F0F0F0"},
"encoding": {
"x2": {"field": "t2"},
"y": {"datum": 0, "type": "quantitative", "scale": {"domain": [0, 1], "range": [1616, 34], "nice": false, "zero": false}, "axis": null},
"y2": {"datum": 1}
}
},
{
"encoding": {
"y": {"field": "v", "type": "quantitative",
"scale": {"domain": [-2.48, 30.82], "range": [558, 59.6], "nice": false, "zero": false},
"axis": {"orient": "left", "values": [0, 10, 20, 30], "grid": false,
"title": ["Surface water", "cover (%)"], "titleFont": "Lato", "titleFontSize": 59, "titleFontWeight": "bold", "titleColor": "black",
"titleAngle": -90, "titleAlign": "center", "titleBaseline": "alphabetic", "titleX": -215.5, "titleY": 311, "titleLineHeight": 63,
"labelFont": "Lato", "labelFontSize": 46, "labelColor": "black", "labelPadding": 9, "labelFlush": false, "labelOverlap": false,
"labelExpr": "datum.value < 0 ? '-' + abs(datum.value) : '' + datum.value",
"tickSize": 11, "tickWidth": 2.5, "tickColor": "black", "domainColor": "black", "domainWidth": 2.5}}
},
"layer": [
{"data": {"name": "west"}, "mark": {"type": "line", "color": "#FC684B", "strokeWidth": 4.5, "strokeJoin": "round"}},
{"data": {"name": "lower"}, "mark": {"type": "line", "color": "#5375AA", "strokeWidth": 4.5, "strokeJoin": "round"}},
{"data": {"values": [{"t": 2000.343, "v": 27.85, "label": "(A)"}]},
"mark": {"type": "text", "align": "left", "baseline": "alphabetic", "font": "Lato", "fontSize": 58, "fontWeight": "bold", "color": "black"},
"encoding": {"text": {"field": "label"}}},
{"data": {"values": [{"t": 2004.39, "v": 29.01, "label": "Major flood episode"}, {"t": 2004.39, "v": 24.32, "label": "(FE1)"}]},
"mark": {"type": "text", "align": "left", "baseline": "alphabetic", "font": "Open Sans", "fontSize": 55, "fontWeight": "bold", "color": "#00B400"},
"encoding": {"text": {"field": "label"}}},
{"data": {"values": [{"t": 2013.291, "v": 29.25, "label": "FE2"}]},
"mark": {"type": "text", "align": "left", "baseline": "alphabetic", "font": "Open Sans", "fontSize": 55, "fontWeight": "bold", "color": "#B41ADB"},
"encoding": {"text": {"field": "label"}}},
{"data": {"values": [{"t": 2005.75, "v": 15.87, "label": "Western Pampa"}]},
"mark": {"type": "text", "align": "left", "baseline": "alphabetic", "font": "Open Sans", "fontSize": 58, "fontStyle": "italic", "color": "#FC684B"},
"encoding": {"text": {"field": "label"}}},
{"data": {"values": [{"t": 2006.04, "v": -3.55, "label": "Lower Pampa"}]},
"mark": {"type": "text", "align": "left", "baseline": "alphabetic", "font": "Open Sans", "fontSize": 58, "fontStyle": "italic", "color": "#5375AA"},
"encoding": {"text": {"field": "label"}}}
]
},
{
"encoding": {
"y": {"field": "v", "type": "quantitative",
"scale": {"domain": [-171.3, 196.3], "range": [1098.3, 594], "nice": false, "zero": false},
"axis": {"orient": "left", "values": [-150, -100, -50, 0, 50, 100, 150], "grid": false,
"title": ["Terrestrial water", "storage (mm)"], "titleFont": "Lato", "titleFontSize": 59, "titleFontWeight": "bold", "titleColor": "black",
"titleAngle": -90, "titleAlign": "center", "titleBaseline": "alphabetic", "titleX": -215.5, "titleY": 849, "titleLineHeight": 63,
"labelFont": "Lato", "labelFontSize": 46, "labelColor": "black", "labelPadding": 9, "labelFlush": false, "labelOverlap": false,
"labelExpr": "datum.value < 0 ? '-' + abs(datum.value) : '' + datum.value",
"tickSize": 11, "tickWidth": 2.5, "tickColor": "black", "domainColor": "black", "domainWidth": 2.5}}
},
"layer": [
{"data": {"name": "tws_l"}, "mark": {"type": "line", "color": "#5375AA", "strokeWidth": 4.5, "strokeJoin": "round"}},
{"data": {"name": "tws_w"}, "mark": {"type": "line", "color": "#FC684B", "strokeWidth": 4.5, "strokeJoin": "round"}},
{"data": {"values": [{"t": 2000.353, "v": 146.9, "label": "(B)"}]},
"mark": {"type": "text", "align": "left", "baseline": "alphabetic", "font": "Lato", "fontSize": 56, "fontWeight": "bold", "color": "black"},
"encoding": {"text": {"field": "label"}}}
]
},
{
"encoding": {
"y": {"field": "w", "type": "quantitative",
"scale": {"domain": [-409.7, 446], "range": [1394, 1149], "nice": false, "zero": false},
"axis": {"orient": "left", "values": [-400, -200, 0, 200, 400], "grid": false, "title": null,
"labelFont": "Lato", "labelFontSize": 46, "labelColor": "black", "labelPadding": 9, "labelFlush": false, "labelOverlap": false,
"labelExpr": "datum.value < 0 ? '-' + abs(datum.value) : '' + datum.value",
"tickSize": 11, "tickWidth": 2.5, "tickColor": "black", "domainColor": "black", "domainWidth": 2.5}}
},
"layer": [
{"data": {"name": "ppt"}, "mark": {"type": "bar", "color": "#FC684B", "size": 7}},
{"data": {"values": [{"t": 2000.353, "w": 314.4, "label": "(C)"}]},
"mark": {"type": "text", "align": "left", "baseline": "alphabetic", "font": "Lato", "fontSize": 56, "fontWeight": "bold", "color": "black"},
"encoding": {"text": {"field": "label"}}}
]
},
{
"data": {"name": "ppt"},
"mark": {"type": "bar", "color": "#5375AA", "size": 7},
"encoding": {
"y": {"field": "l", "type": "quantitative",
"scale": {"domain": [-418.2, 446.8], "range": [1660.5, 1412.7], "nice": false, "zero": false},
"axis": {"orient": "left", "values": [-400, -200, 0, 200, 400], "grid": false,
"title": ["6-month accumulated", "PPT anomaly (mm)"], "titleFont": "Lato", "titleFontSize": 59, "titleFontWeight": "bold", "titleColor": "black",
"titleAngle": -90, "titleAlign": "center", "titleBaseline": "alphabetic", "titleX": -215.5, "titleY": 1409, "titleLineHeight": 63,
"labelFont": "Lato", "labelFontSize": 46, "labelColor": "black", "labelPadding": 9, "labelFlush": false, "labelOverlap": false,
"labelExpr": "datum.value < 0 ? '-' + abs(datum.value) : '' + datum.value",
"tickSize": 11, "tickWidth": 2.5, "tickColor": "black", "domainColor": "black", "domainWidth": 2.5}}
}
},
{
"data": {"values": [{"t": 2000.22, "t2": 2004.22, "f0": -0.095, "f1": 0.999}]},
"mark": {"type": "rect", "filled": false, "stroke": "#00B400", "strokeWidth": 7, "strokeDash": [46, 50], "strokeCap": "round"},
"encoding": {
"x2": {"field": "t2"},
"y": {"field": "f0", "type": "quantitative", "scale": {"domain": [0, 1], "range": [1616, 34], "nice": false, "zero": false}, "axis": null},
"y2": {"field": "f1"}
}
},
{
"data": {"values": [{"t": 2011.93, "t2": 2013.1, "f0": -0.095, "f1": 0.999}]},
"mark": {"type": "rect", "filled": false, "stroke": "#B41ADB", "strokeWidth": 7, "strokeDash": [46, 50], "strokeCap": "round"},
"encoding": {
"x2": {"field": "t2"},
"y": {"field": "f0", "type": "quantitative", "scale": {"domain": [0, 1], "range": [1616, 34], "nice": false, "zero": false}, "axis": null},
"y2": {"field": "f1"}
}
}
],
"resolve": {"scale": {"y": "independent"}, "axis": {"y": "independent"}}
}
